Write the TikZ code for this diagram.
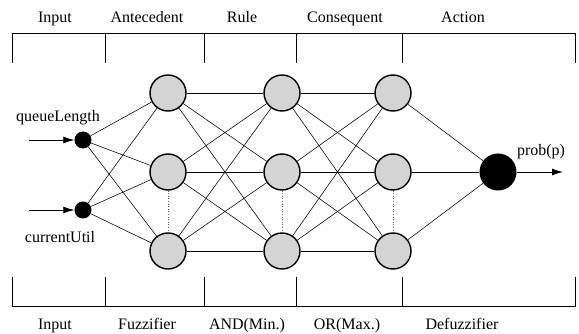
\documentclass[tikz,border=0pt]{standalone}
\usepackage{fontspec}
\setmainfont{Liberation Serif}
\usetikzlibrary{arrows.meta}
\begin{document}
\begin{tikzpicture}[x=1pt,y=-1pt,
  lbl/.style={font=\fontsize{16}{18}\selectfont, inner sep=0pt, anchor=base},
  bracket/.style={line width=0.8pt},
  neuron/.style={circle, draw, line width=1.4pt, fill=black!17, minimum size=36pt, inner sep=0pt},
  indot/.style={circle, fill=black, minimum size=17pt, inner sep=0pt},
  outdot/.style={circle, fill=black, minimum size=37pt, inner sep=0pt},
  conn/.style={line width=0.55pt},
  dots/.style={line width=0.6pt, dotted, black!60},
  arr/.style={line width=0.8pt, -{Latex[length=11pt,width=7pt]}}
]
\useasboundingbox (0,0) rectangle (579,334);
% top bracket
\draw[bracket] (12,63) -- (12,33) -- (575.5,33) -- (575.5,63);
\foreach \x in {105,204,296,402} \draw[bracket] (\x,33) -- (\x,63);
% bottom bracket
\draw[bracket] (12,277) -- (12,306.5) -- (575.5,306.5) -- (575.5,277);
\foreach \x in {105,204,296,402} \draw[bracket] (\x,277) -- (\x,306.5);
% labels
\node[lbl] (t1) at (55,22.5) {Input};
\node[lbl] (t2) at (147,22.5) {Antecedent};
\node[lbl] (t3) at (242,22.5) {Rule};
\node[lbl] (t4) at (345,22.5) {Consequent};
\node[lbl] (t5) at (463,22.5) {Action};
\node[lbl] (b1) at (55,329.5) {Input};
\node[lbl] (b2) at (147,329.5) {Fuzzifier};
\node[lbl] (b3) at (247,329.5) {AND(Min.)};
\node[lbl] (b4) at (347,329.5) {OR(Max.)};
\node[lbl] (b5) at (462,329.5) {Defuzzifier};
% nodes
\node[indot] (i1) at (83,140) {};
\node[indot] (i2) at (83,210) {};
\foreach \n/\x in {a/168,r/282,c/393}{
  \node[neuron] (\n1) at (\x,93) {};
  \node[neuron] (\n2) at (\x,172) {};
  \node[neuron] (\n3) at (\x,251) {};
}
\node[outdot] (o) at (498,172) {};
\coordinate (s1) at (29,140);
\coordinate (s2) at (29,210);
\coordinate (e) at (563,172);
\node[lbl] (ql) at (58,121.5) {queueLength};
\node[lbl] (cu) at (60,242.5) {currentUtil};
\node[lbl] (pp) at (541,156) {prob(p)};
% connectors
\foreach \i in {1,2}\foreach \j in {1,2,3} \draw[conn] (i\i) -- (a\j);
\foreach \i in {1,2,3}\foreach \j in {1,2,3} {\draw[conn] (a\i) -- (r\j); \draw[conn] (r\i) -- (c\j);}
\foreach \j in {1,2,3} \draw[conn] (c\j) -- (o);
\foreach \n in {a,r,c} \draw[dots] (\n2) -- (\n3);
\draw[arr] (s1) -- (i1);
\draw[arr] (s2) -- (i2);
\draw[arr] (o) -- (e);
\end{tikzpicture}
\end{document}
